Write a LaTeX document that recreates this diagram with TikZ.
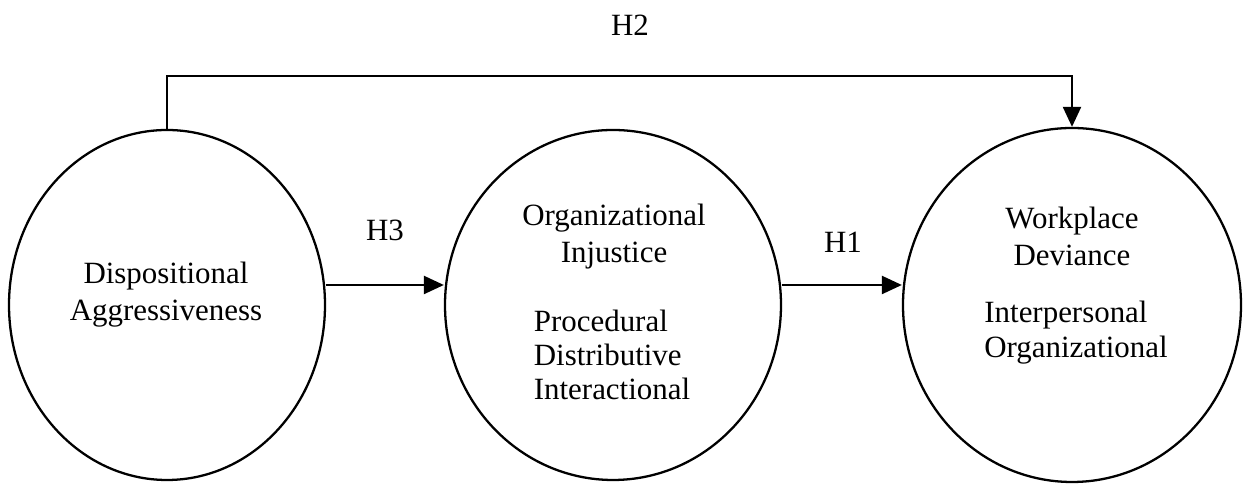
\documentclass[tikz,border=0pt]{standalone}
\usepackage{fontspec}
\setmainfont{Liberation Serif}
\usetikzlibrary{arrows.meta,shapes.geometric}

\begin{document}
\begin{tikzpicture}[
  construct/.style={draw, ellipse, line width=1.3pt, inner sep=0pt, minimum height=7cm},
  hpath/.style={line width=1.3pt, -{Triangle[length=4mm,width=3.6mm]}},
  lbl/.style={font=\fontsize{17.6}{21}\selectfont, align=center},
  sublbl/.style={font=\fontsize{17.6}{19.5}\selectfont, align=left}
]
  \useasboundingbox (0,0) rectangle (24.9,9.68);

  % Constructs
  \node[construct, minimum width=6.32cm] (dispo) at (3.34,3.58) {};
  \node[construct, minimum width=6.72cm] (injust) at (12.26,3.58) {};
  \node[construct, minimum width=6.76cm, minimum height=7.08cm] (dev) at (21.44,3.58) {};

  % Texts inside
  \node[lbl] (dispoTxt) at (3.32,3.78) {Dispositional\\Aggressiveness};
  \node[lbl] (injustTxt) at (12.28,4.95) {Organizational\\Injustice};
  \node[sublbl] (injustSub) at (12.24,2.58) {Procedural\\Distributive\\Interactional};
  \node[lbl] (devTxt) at (21.44,4.95) {Workplace\\Deviance};
  \node[sublbl] (devSub) at (21.52,3.03) {Interpersonal\\Organizational};

  % Hypotheses
  \draw[hpath] ([yshift=4mm]dispo.east) -- ([yshift=4mm]injust.west);
  \node[lbl] (h3) at (7.7,5.08) {H3};
  \draw[hpath] ([yshift=4mm]injust.east) -- ([yshift=4mm]dev.west);
  \node[lbl] (h1) at (16.86,4.84) {H1};
  \draw[hpath] (dispo.north) -- ++(0,1.06) -| (dev.north);
  \node[lbl] (h2) at (12.6,9.18) {H2};
\end{tikzpicture}
\end{document}
